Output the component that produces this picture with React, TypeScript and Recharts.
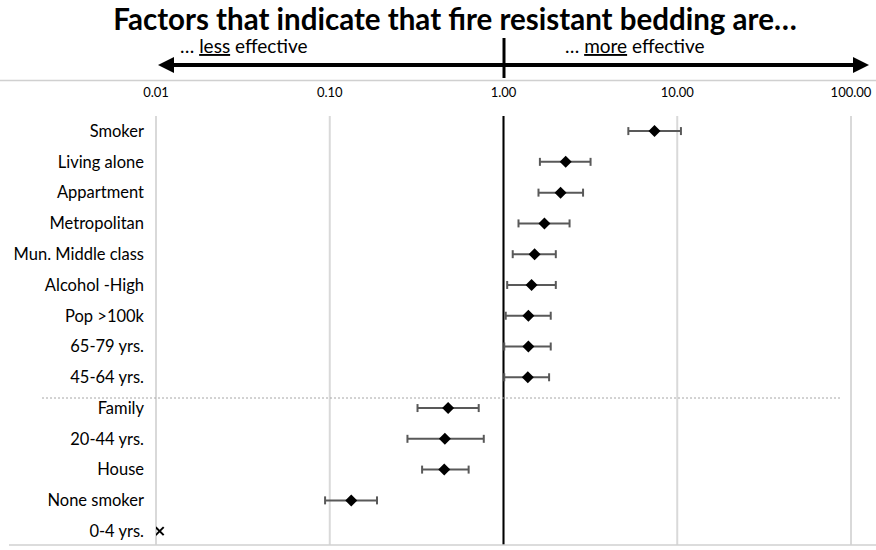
import {
  ScatterChart,
  Scatter,
  XAxis,
  YAxis,
  CartesianGrid,
  ErrorBar,
  ReferenceLine,
} from "recharts";

const categories = [
  "Smoker",
  "Living alone",
  "Appartment",
  "Metropolitan",
  "Mun. Middle class",
  "Alcohol -High",
  "Pop >100k",
  "65-79 yrs.",
  "45-64 yrs.",
  "Family",
  "20-44 yrs.",
  "House",
  "None smoker",
  "0-4 yrs.",
];

// odds ratio and 95% CI
const estimates = [7.4, 2.28, 2.13, 1.72, 1.51, 1.45, 1.39, 1.39, 1.38, 0.48, 0.46, 0.456, 0.133, 0.0105];
const lower = [5.23, 1.62, 1.59, 1.22, 1.13, 1.05, 1.03, 1.01, 1.01, 0.32, 0.28, 0.34, 0.094, null];
const upper = [10.5, 3.17, 2.87, 2.4, 2.0, 2.0, 1.87, 1.87, 1.83, 0.72, 0.77, 0.63, 0.187, null];

const xTicks = [0.01, 0.1, 1, 10, 100];

const rows = categories.map((name, i) => ({
  name,
  row: i,
  value: estimates[i],
  err: lower[i] != null && upper[i] != null ? [estimates[i] - lower[i]!, upper[i]! - estimates[i]] : null,
}));

const withCI = rows.filter((r) => r.err != null);
const noCI = rows.filter((r) => r.err == null);

const FONT = "Lato, 'Open Sans', sans-serif";

const Diamond = (props: any) => {
  const { cx, cy } = props;
  const r = 6;
  return (
    <polygon
      points={`${cx},${cy - r} ${cx + r},${cy} ${cx},${cy + r} ${cx - r},${cy}`}
      fill="#000"
    />
  );
};

const Cross = (props: any) => {
  const { cx, cy } = props;
  const r = 4;
  return (
    <g stroke="#000" strokeWidth={2}>
      <line x1={cx - r} y1={cy - r} x2={cx + r} y2={cy + r} />
      <line x1={cx - r} y1={cy + r} x2={cx + r} y2={cy - r} />
    </g>
  );
};

export default function App() {
  return (
    <div style={{ position: "absolute", left: 0, top: 0, width: 876, height: 550, background: "#fff" }}>
      <ScatterChart
        width={876}
        height={550}
        margin={{ top: 86, right: 25, bottom: 5, left: 10 }}
      >
        <CartesianGrid horizontal={false} stroke="#d9d9d9" strokeWidth={2} />
        <XAxis
          type="number"
          dataKey="value"
          orientation="top"
          scale="log"
          domain={[0.01, 100]}
          ticks={xTicks}
          allowDataOverflow
          height={30}
          axisLine={false}
          tickLine={false}
          tickMargin={13}
          tickFormatter={(v: number) => v.toFixed(2)}
          tick={{ fill: "#000", fontSize: 13, fontFamily: FONT }}
        />
        <YAxis
          type="number"
          dataKey="row"
          reversed
          domain={[-0.49, 13.45]}
          ticks={categories.map((_, i) => i)}
          interval={0}
          width={146}
          axisLine={false}
          tickLine={false}
          tickMargin={6}
          tickFormatter={(i: number) => categories[i] ?? ""}
          tick={{ fill: "#000", fontSize: 16.5, fontFamily: FONT }}
        />
        <ReferenceLine
          x={1}
          stroke="#000"
          strokeWidth={2}
          segment={[{ x: 1, y: -0.91 }, { x: 1, y: 13.65 }]}
          ifOverflow="visible"
        />
        <Scatter data={withCI} shape={<Diamond />} isAnimationActive={false}>
          <ErrorBar dataKey="err" direction="x" width={4} stroke="#595959" strokeWidth={2} />
        </Scatter>
        <Scatter data={noCI} shape={<Cross />} isAnimationActive={false} />
      </ScatterChart>

      <svg
        width={876}
        height={550}
        style={{ position: "absolute", left: 0, top: 0, pointerEvents: "none" }}
      >
        <text x={455} y={30} textAnchor="middle" fontFamily={FONT} fontSize={29.5} fontWeight="bold" fill="#000">
          Factors that indicate that fire resistant bedding are…
        </text>
        <text x={180} y={53} fontFamily={FONT} fontSize={19} fill="#000">
          …{" "}<tspan style={{ textDecoration: "underline" }}>less</tspan> effective
        </text>
        <text x={565} y={53} fontFamily={FONT} fontSize={19} fill="#000">
          …{" "}<tspan style={{ textDecoration: "underline" }}>more</tspan> effective
        </text>
        <line x1={172} y1={65} x2={856} y2={65} stroke="#000" strokeWidth={4} />
        <polygon points="158,65 174,57 174,73" fill="#000" />
        <polygon points="869,65 853,57 853,73" fill="#000" />
        <line x1={504} y1={38} x2={504} y2={78} stroke="#000" strokeWidth={3} />
        <line x1={0} y1={80.5} x2={876} y2={80.5} stroke="#d0d0d0" strokeWidth={1.5} />
        <line x1={9} y1={545} x2={876} y2={545} stroke="#d0d0d0" strokeWidth={1.5} />
        <line x1={42} y1={398} x2={842} y2={398} stroke="#a6a6a6" strokeWidth={1} strokeDasharray="2 2" />
      </svg>
    </div>
  );
}
